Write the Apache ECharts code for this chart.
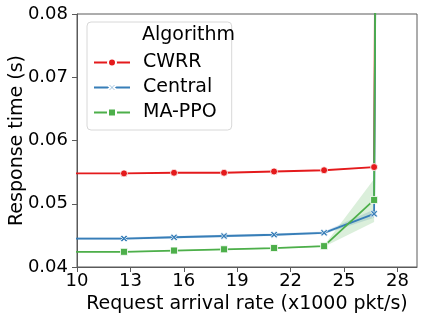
<!DOCTYPE html>
<html>
<head>
<meta charset="utf-8">
<script src="https://cdn.jsdelivr.net/npm/echarts@6/dist/echarts.min.js"></script>
<style>
  html, body { margin: 0; padding: 0; background: #fff; }
  #chart { width: 424px; height: 321px; }
</style>
</head>
<body>
<div id="chart"></div>
<script>
  // request arrival rate (x1000 pkt/s); first point sits left of the axis, last one far above
  const rates = [9.83, 12.64, 15.45, 18.26, 21.07, 23.88, 26.69, 26.78];
  const cwrr = [0.0548, 0.0548, 0.0549, 0.0549, 0.0551, 0.0553, 0.0558, 0.105];
  const cwrrLo = [0.05475, 0.05475, 0.05485, 0.05485, 0.05505, 0.05525, 0.05570, 0.100];
  const cwrrHi = [0.05485, 0.05485, 0.05495, 0.05495, 0.05515, 0.05535, 0.05590, 0.110];
  const central = [0.0445, 0.0445, 0.0447, 0.0449, 0.0451, 0.0454, 0.0484, 0.095];
  const centralLo = [0.0443, 0.0443, 0.0445, 0.0447, 0.0449, 0.0452, 0.0478, 0.085];
  const centralHi = [0.0447, 0.0447, 0.0449, 0.0451, 0.0453, 0.0456, 0.0491, 0.105];
  const mappo = [0.0424, 0.0424, 0.0426, 0.0428, 0.0430, 0.0433, 0.0506, 0.095];
  const mappoLo = [0.0423, 0.0423, 0.0425, 0.0427, 0.0429, 0.0432, 0.0471, 0.085];
  const mappoHi = [0.0425, 0.0425, 0.0427, 0.0429, 0.0431, 0.0434, 0.0539, 0.105];
  const xTicks = [10, 13, 16, 19, 22, 25, 28];

  const font = 'DejaVu Sans';
  const red = '#e41a1c', blue = '#377eb8', green = '#4daf4a';
  const axisColor = '#5a5a5a';
  const xMark = 'path://M0,2 L2,0 L5,3 L8,0 L10,2 L7,5 L10,8 L8,10 L5,7 L2,10 L0,8 L3,5 Z';

  const pairs = (ys) => rates.map((x, i) => [x, ys[i]]);

  const band = (name, lo, hi, color) => ({
    name: name + ' band',
    type: 'custom',
    clip: true,
    silent: true,
    z: 1,
    data: rates.map((x, i) => [x, lo[i], hi[i]]),
    renderItem: (params, api) => {
      if (params.dataIndex !== 0) return;
      const top = rates.map((x, i) => api.coord([x, hi[i]]));
      const bot = rates.map((x, i) => api.coord([x, lo[i]])).reverse();
      return {
        type: 'polygon',
        shape: { points: top.concat(bot) },
        style: { fill: color }
      };
    }
  });

  const line = (name, ys, color, symbol, size) => ({
    name: name,
    type: 'line',
    data: pairs(ys),
    clip: true,
    z: 3,
    symbol: symbol,
    symbolSize: size,
    showAllSymbol: true,
    lineStyle: { color: color, width: 1.8 },
    itemStyle: { color: color, borderColor: '#fff', borderWidth: 0.8 }
  });

  const chart = echarts.init(document.getElementById('chart'));
  chart.setOption({
    animation: false,
    textStyle: { fontFamily: font },
    grid: {
      left: 77, right: 7, top: 14, bottom: 54,
      outerBoundsMode: 'none',
      show: true, borderColor: axisColor, borderWidth: 1, backgroundColor: '#fff'
    },
    xAxis: {
      type: 'value',
      min: 10, max: 29.1, interval: 3,
      name: 'Request arrival rate (x1000 pkt/s)',
      nameLocation: 'middle', nameGap: 25,
      nameTextStyle: { fontSize: 19, color: '#000', fontFamily: font },
      axisLine: { show: true, lineStyle: { color: axisColor, width: 1 } },
      axisTick: { show: true, length: 5, customValues: xTicks, lineStyle: { color: axisColor } },
      axisLabel: { customValues: xTicks, fontSize: 18, color: '#000', margin: 5, fontFamily: font },
      splitLine: { show: false }
    },
    yAxis: {
      type: 'value',
      min: 0.04, max: 0.08, interval: 0.01,
      name: 'Response time (s)',
      nameLocation: 'middle', nameGap: 50,
      nameMoveOverlap: false,
      nameTextStyle: { fontSize: 19, color: '#000', fontFamily: font },
      axisLine: { show: true, lineStyle: { color: axisColor, width: 1 } },
      axisTick: { show: true, length: 5, lineStyle: { color: axisColor } },
      axisLabel: { fontSize: 18, color: '#000', margin: 9, fontFamily: font,
        formatter: (v) => v.toFixed(2) },
      splitLine: { show: false }
    },
    legend: {
      orient: 'vertical',
      left: 87, top: 22,
      padding: [31, 15, 8, 6],
      itemGap: 6,
      itemWidth: 36, itemHeight: 10,
      backgroundColor: '#fff',
      borderColor: '#d8d8d8', borderWidth: 1, borderRadius: 4,
      data: ['CWRR', 'Central', 'MA-PPO'],
      textStyle: { fontSize: 19, color: '#000', fontFamily: font, padding: [0, 0, 0, 8] }
    },
    graphic: [{
      type: 'text', left: 142, top: 26, z: 100,
      style: { text: 'Algorithm', fontSize: 19, fill: '#000', fontFamily: font }
    }],
    series: [
      band('CWRR', cwrrLo, cwrrHi, 'rgba(228,26,28,0.2)'),
      band('Central', centralLo, centralHi, 'rgba(55,126,184,0.2)'),
      band('MA-PPO', mappoLo, mappoHi, 'rgba(77,175,74,0.2)'),
      line('CWRR', cwrr, red, 'circle', 7),
      line('Central', central, blue, xMark, 7),
      line('MA-PPO', mappo, green, 'rect', 7)
    ]
  });
</script>
</body>
</html>
